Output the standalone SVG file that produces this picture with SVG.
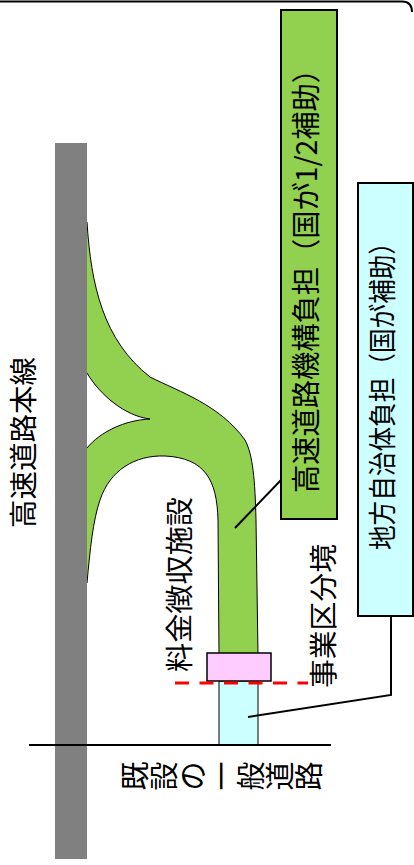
<svg xmlns="http://www.w3.org/2000/svg" width="414" height="865" viewBox="0 0 414 865">
<style>
.t{font-family:"Noto Sans CJK JP","Noto Sans CJK SC",sans-serif;fill:#000;}
.ln{stroke:#000;stroke-width:2;fill:none;}
</style>
<rect x="0" y="0" width="414" height="865" fill="#fff"/>
<path d="M0,1.5 H402 Q412,1.5 412,12" class="ln" stroke-width="2.5"/>
<g id="ramp">
<path d="M84,222 L87,222 C91,285 103,340 150,377 C180,392 220,405 245,440 C253,455 255,480 256,520 L258,655 L219,655 L218,520 C217,480 205,458 165,456 C135,455 110,470 100,500 C93,520 90,550 87,583 L84,583 L84,448 L87,448 C100,432 125,420 150,419 C125,416 100,395 87,373 L84,373 Z" fill="#92d050" stroke="#000" stroke-width="1"/>
</g>
<g id="local-road">
<rect x="219" y="681" width="39" height="64" fill="#ccffff" stroke="#000" stroke-width="1"/>
</g>
<g id="mainline">
<rect x="55" y="143" width="32" height="716" fill="#808080"/>
</g>
<g id="toll-booth">
<rect x="207" y="653" width="64" height="28" fill="#ffccff" stroke="#000" stroke-width="1.5"/>
</g>
<g id="connectors">
<line x1="29" y1="745" x2="331" y2="745" class="ln"/>
<line x1="175" y1="683" x2="308" y2="683" stroke="#ff0000" stroke-width="3" stroke-dasharray="14 10.5"/>
<polyline points="281,480 235,528" class="ln"/>
<polyline points="391,616 391,695 248,717" class="ln"/>
</g>
<g id="label-expressway-box">
<rect x="281" y="10" width="56" height="509" fill="#92d050" stroke="#000" stroke-width="2"/>
<text class="t" font-size="29" text-anchor="middle" dominant-baseline="central" transform="translate(304,274) rotate(-90)" textLength="438" lengthAdjust="spacingAndGlyphs">高速道路機構負担（国が1/2補助）</text>
</g>
<g id="label-local-box">
<rect x="358" y="183" width="55" height="433" fill="#ccffff" stroke="#000" stroke-width="2"/>
<text class="t" font-size="28" text-anchor="middle" dominant-baseline="central" transform="translate(381,390) rotate(-90)" textLength="320" lengthAdjust="spacingAndGlyphs">地方自治体負担（国が補助）</text>
</g>
<g id="label-mainline">
<text class="t" font-size="28" text-anchor="middle" dominant-baseline="central" transform="translate(21.5,442.5) rotate(-90)" textLength="171" lengthAdjust="spacingAndGlyphs">高速道路本線</text>
</g>
<g id="label-toll">
<text class="t" font-size="28" text-anchor="middle" dominant-baseline="central" transform="translate(178,584.5) rotate(-90)" textLength="175" lengthAdjust="spacingAndGlyphs">料金徴収施設</text>
</g>
<g id="label-boundary">
<text class="t" font-size="28" text-anchor="middle" dominant-baseline="central" transform="translate(321.5,616) rotate(-90)" textLength="144" lengthAdjust="spacingAndGlyphs">事業区分境</text>
</g>
<g id="label-existing-road" class="t" font-size="29" text-anchor="middle" dominant-baseline="central">
<text transform="translate(132.5,776) rotate(-90)">既</text>
<text transform="translate(161.7,776) rotate(-90)">設</text>
<text transform="translate(190.9,776) rotate(-90)">の</text>
<text transform="translate(220,776) rotate(-90)">一</text>
<text transform="translate(249,776) rotate(-90)">般</text>
<text transform="translate(278.2,776) rotate(-90)">道</text>
<text transform="translate(307.4,776) rotate(-90)">路</text>
</g>
</svg>
